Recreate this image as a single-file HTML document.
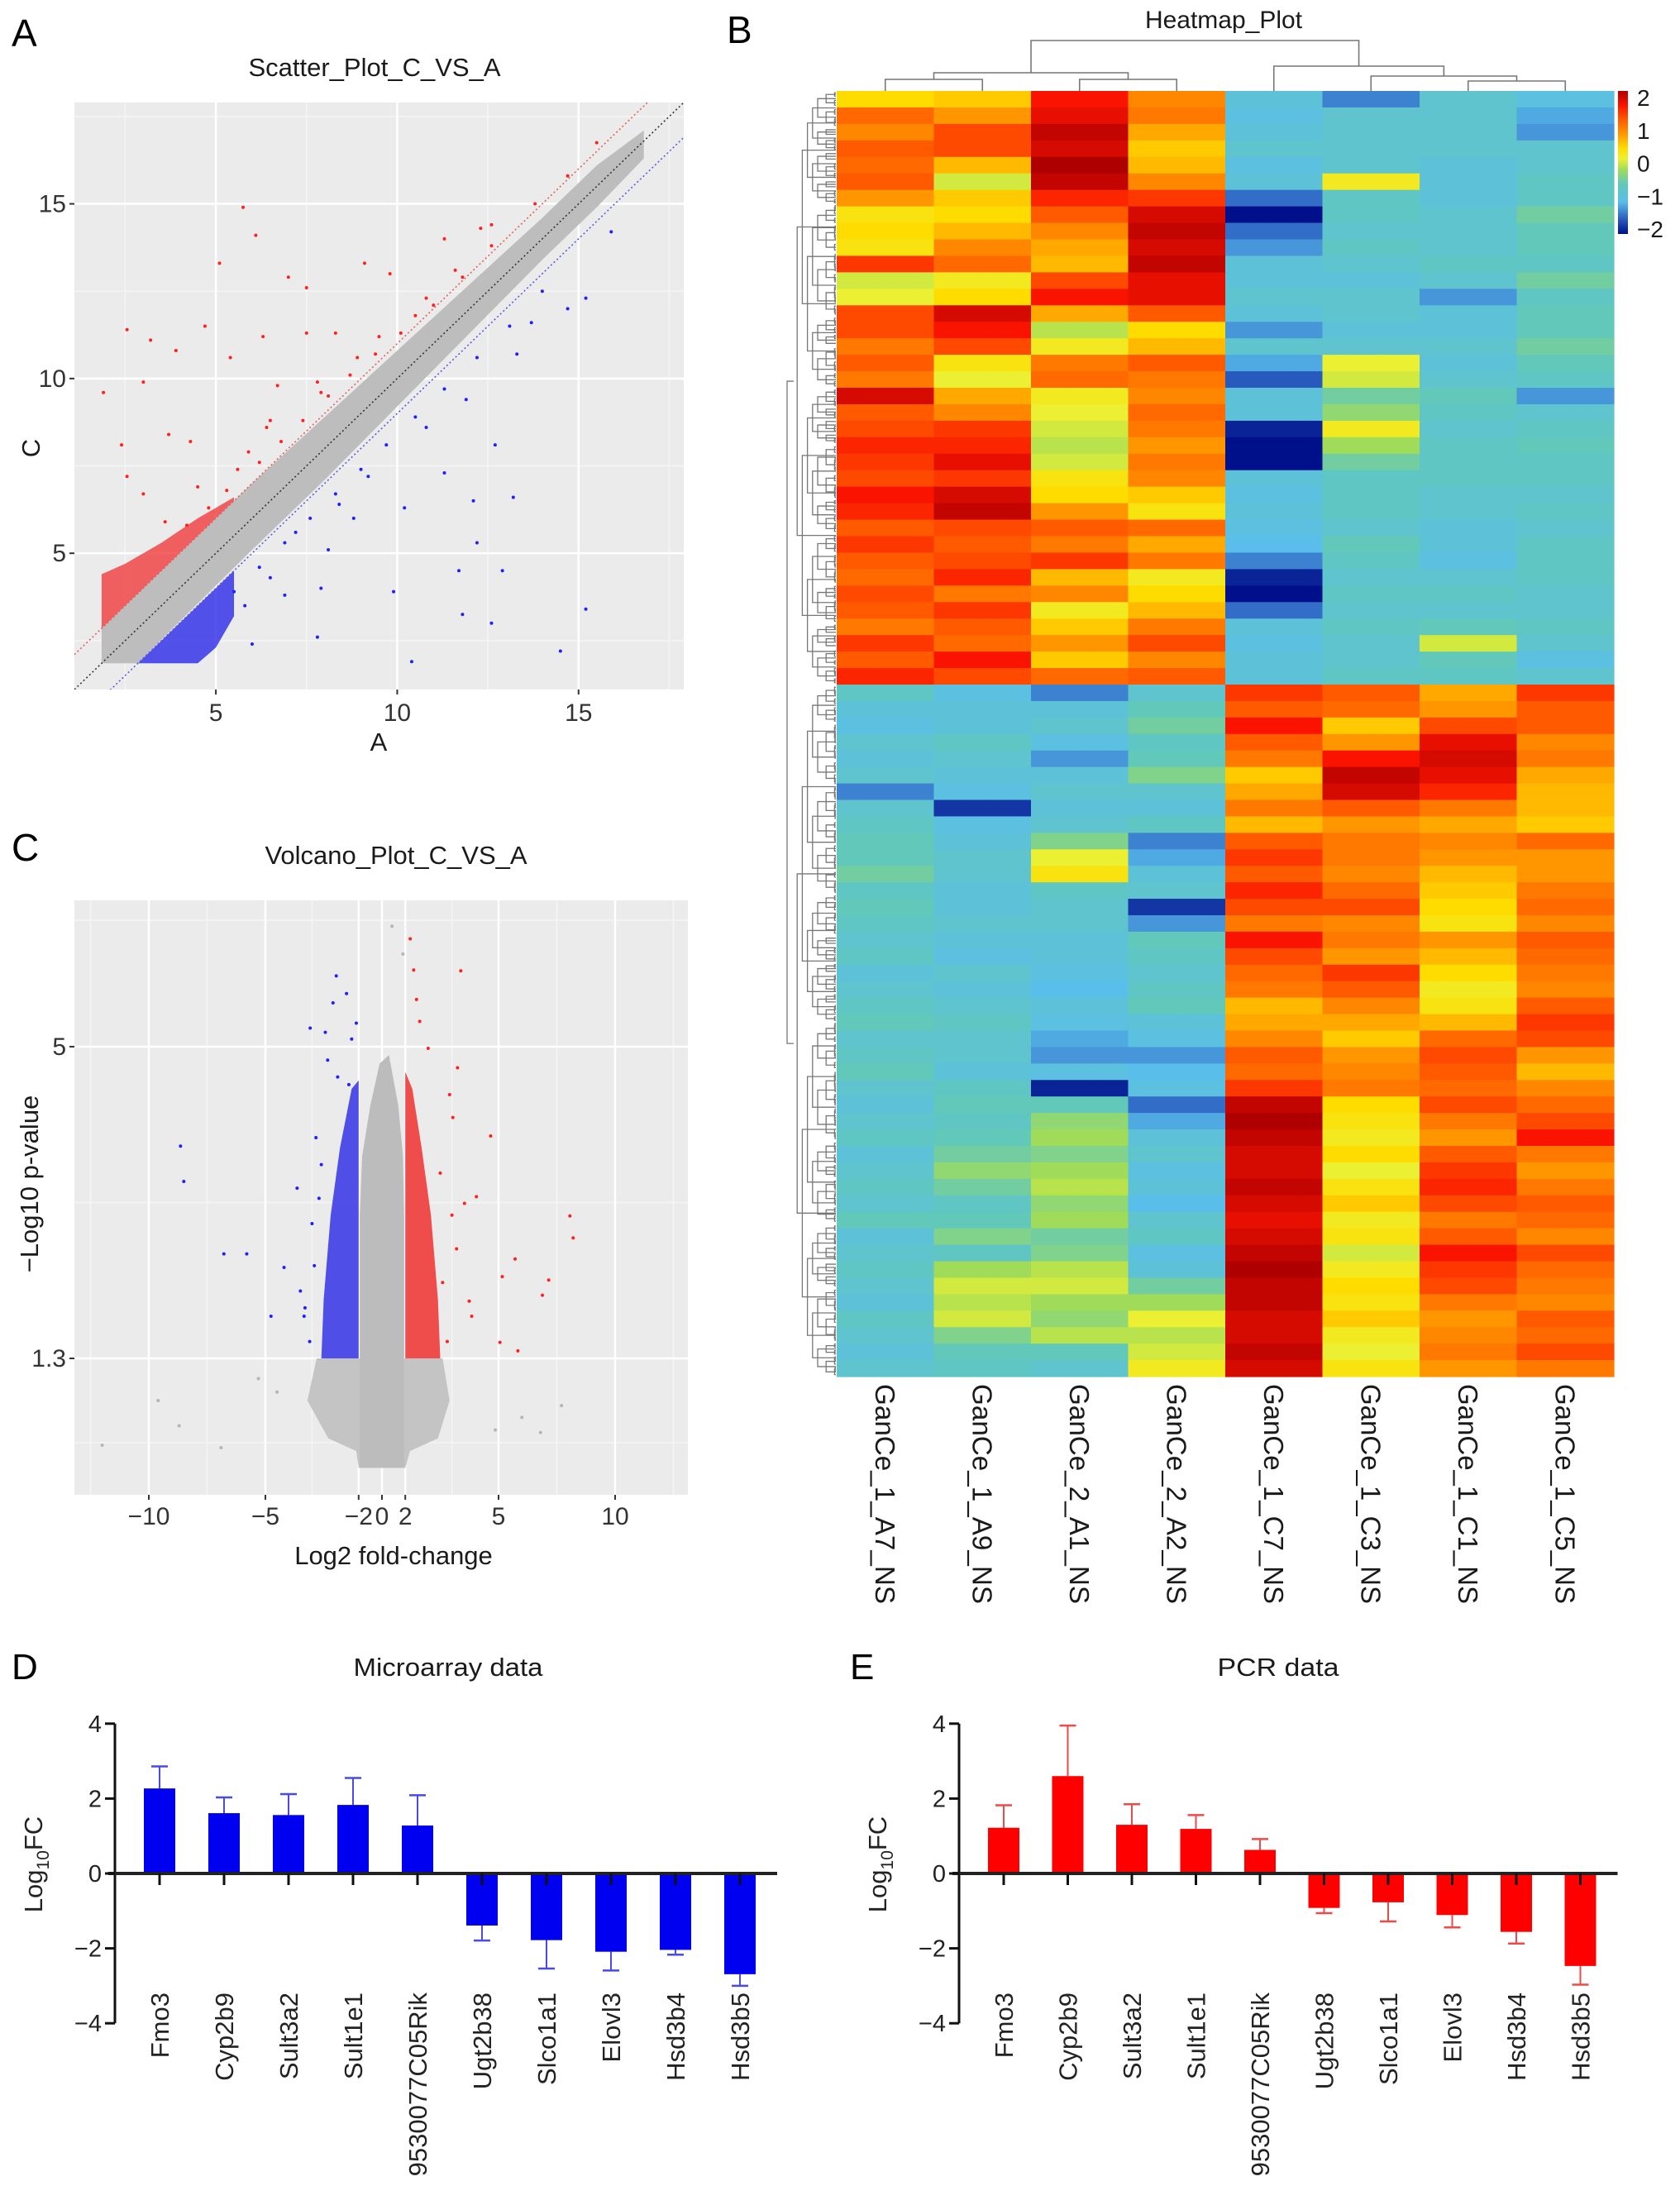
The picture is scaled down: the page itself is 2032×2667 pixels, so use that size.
<!DOCTYPE html>
<html><head><meta charset="utf-8">
<style>
html,body{margin:0;padding:0;background:#fff;}
svg{display:block;font-family:"Liberation Sans",Arial,sans-serif;}
</style></head>
<body>
<svg id="fig" width="2032" height="2667" viewBox="0 0 2032 2667" xmlns="http://www.w3.org/2000/svg">
<g id="scatter"></g>
<g id="volcano"></g>
<g id="heatmap"></g>
<g id="barsD"></g>
<g id="barsE"></g>
</svg>
<script>
// ---------- DATA ----------
// Scatter (A)
const scGrayX  = [1.85, 2.85, 4, 6, 8, 10, 12, 14, 15.5, 16.8];
const scGrayLo = [1.85, 1.85, 3.05, 5.1, 7.1, 9.2, 11.3, 13.4, 14.9, 16.3];
const scGrayHi = [2.85, 3.85, 5.0, 7.0, 8.9, 10.8, 12.7, 14.6, 16.1, 17.1];
const scRedX  = [1.85, 2.5, 3.5, 4.5, 5.5];
const scRedLo = [2.85, 3.5, 4.5, 5.5, 6.5];
const scRedHi = [4.4, 4.7, 5.3, 6.0, 6.6];
const scBlueX  = [2.85, 3.5, 4.5, 5.0, 5.5];
const scBlueLo = [1.85, 1.85, 1.85, 2.3, 3.2];
const scBlueHi = [1.85, 2.5, 3.5, 4.0, 4.5];
const scRedPtsX = [5.75,6.1,5.1,7.5,2.55,4.7,3.2,3.9,1.9,3.0,6.3,5.4,12.6,11.3,12.3,9.1,9.8,10.5,7.0,8.3,15.5,13.8,14.7,7.5,6.7,4.3,3.7,2.4,2.55,3.0,8.9,9.5,10.8,11.6,7.9,6.5,5.9,4.2,4.8,5.3,6.2,6.8,7.4,8.1,8.7,9.4,10.1,11.0,11.8,12.6,4.5,5.6,6.4,7.8,3.6];
const scRedPtsY = [14.9,14.1,13.3,12.6,11.4,11.5,11.1,10.8,9.6,9.9,11.2,10.6,14.4,14.0,14.3,13.3,13.0,11.8,12.9,11.3,16.75,15.0,15.8,11.3,9.8,8.2,8.4,8.1,7.2,6.7,10.6,11.2,12.3,13.1,9.6,8.8,7.9,5.8,6.3,6.8,7.6,8.2,8.8,9.5,10.1,10.7,11.3,12.1,12.9,13.8,6.9,7.4,8.6,9.9,5.9];
const scBluePtsX = [15.9,14.7,15.2,13.7,12.7,13.2,12.2,11.7,11.8,12.6,14.5,15.2,10.4,10.2,9.9,8.8,8.1,7.9,7.8,6.0,6.9,12.9,11.3,13.3,12.1,9.2,10.8,11.9,8.4,7.2,5.5,6.2,6.9,7.6,8.3,9.0,9.7,10.5,11.3,12.2,13.1,14.0,5.8,6.5];
const scBluePtsY = [14.2,12.0,12.3,11.6,8.1,6.6,5.3,4.5,3.25,3.0,2.2,3.4,1.9,6.3,3.9,6.0,5.1,4.0,2.6,2.4,3.8,4.5,7.3,10.7,6.5,7.2,8.6,9.4,6.4,5.6,3.9,4.6,5.3,6.0,6.7,7.4,8.1,8.9,9.7,10.6,11.5,12.5,3.5,4.3];
const scTicks = [5, 10, 15];
// Volcano (C)
const vcTickVals = [-10, -5, -1, 0, 1, 5, 10];
const vcTickLabels = ["\u221210", "\u22125", "\u22122", "0", "2", "5", "10"];
const vcYTickVals = [5, 1.3];
const vcGrayCoreX = [-0.95,-0.95,-0.85,-0.5,-0.1,0.3,0.7,0.9,0.95,0.95];
const vcGrayCoreY = [0.0,3.0,3.7,4.3,4.8,4.9,4.3,3.7,3.0,0.0];
const vcGrayBaseX = [-1.0,1.0,1.2,2.4,2.9,2.6,-2.8,-3.2,-2.3,-1.1];
const vcGrayBaseY = [0.0,0.0,0.2,0.35,0.8,1.3,1.3,0.8,0.35,0.2];
const vcBlueX = [-1.0,-2.6,-2.5,-2.2,-1.8,-1.3,-1.0];
const vcBlueY = [1.3,1.3,2.0,3.0,3.8,4.5,4.6];
const vcRedX = [1.0,2.5,2.4,2.1,1.7,1.3,1.0];
const vcRedY = [1.3,1.3,2.0,3.0,3.8,4.5,4.7];
const vcBluePtsX = [-1.96,-1.52,-2.1,-1.1,-3.08,-2.43,-1.3,-2.33,-1.9,-1.42,-8.64,-8.5,-6.78,-5.8,-3.64,-4.2,-3.34,-2.83,-4.76,-3.0,-2.6,-3.5,-3.1,-2.9,-2.7,-3.3];
const vcBluePtsY = [5.84,5.63,5.52,5.28,5.22,5.17,5.09,4.84,4.64,4.55,3.82,3.4,2.54,2.54,3.32,2.38,1.8,3.92,1.8,2.9,3.6,2.1,1.5,2.4,3.2,1.9];
const vcRedPtsX = [1.21,1.36,1.48,3.38,1.62,1.98,3.24,2.9,3.04,4.66,4.05,3.54,8.06,8.2,5.71,7.15,6.88,5.16,3.85,5.06,5.83,3.74,2.5,3.2,2.8,2.6,3.0];
const vcRedPtsY = [6.28,5.91,5.56,5.9,5.3,4.98,4.75,4.43,4.16,3.94,3.22,3.14,2.99,2.73,2.48,2.23,2.05,2.27,1.8,1.49,1.39,1.98,3.5,2.6,1.5,2.2,3.0];
const vcGrayPtsX = [0.43,-5.3,-9.6,-12,-6.9,7.7,6.8,-8.7,4.86,0.9,-4.5,6.0];
const vcGrayPtsY = [6.43,1.06,0.8,0.27,0.24,0.74,0.42,0.5,0.45,6.1,0.9,0.6];
// Heatmap (B)
const hmSamples = ["GanCe_1_A7_NS","GanCe_1_A9_NS","GanCe_2_A1_NS","GanCe_2_A2_NS","GanCe_1_C7_NS","GanCe_1_C3_NS","GanCe_1_C1_NS","GanCe_1_C5_NS"];
const hmTop = [
[0.4,0.5,1.6,0.9,-0.9,-1.4,-0.8,-1.0],[1.1,0.8,1.7,1.0,-1.0,-0.8,-0.8,-1.2],[0.9,1.3,1.9,0.7,-0.9,-0.8,-0.8,-1.3],
[1.2,1.3,1.8,0.5,-0.8,-0.8,-0.8,-0.8],[1.1,0.6,2.0,0.6,-1.0,-0.8,-0.9,-0.8],[1.2,0.0,1.9,0.9,-0.9,0.2,-0.9,-0.7],
[0.8,0.5,1.5,1.4,-1.5,-0.7,-0.9,-0.7],[0.3,0.4,1.2,1.8,-2.0,-0.7,-0.8,-0.5],[0.4,0.6,0.9,1.9,-1.5,-0.8,-0.8,-0.6],
[0.3,0.9,0.7,1.8,-1.3,-0.7,-0.8,-0.6],[1.4,1.1,0.6,1.9,-0.9,-0.8,-0.7,-0.7],[0.0,0.2,1.3,1.7,-0.9,-0.9,-0.8,-0.5],
[0.1,0.4,1.6,1.7,-0.8,-0.8,-1.3,-0.7],[1.3,1.8,0.7,1.2,-0.9,-0.8,-0.9,-0.6],[1.3,1.6,-0.1,0.4,-1.3,-0.9,-0.9,-0.6],
[1.0,1.3,0.2,0.6,-0.8,-0.8,-0.8,-0.5],[1.2,0.3,1.0,1.2,-1.2,0.1,-0.9,-0.6],[1.0,0.1,1.1,1.0,-1.6,0.0,-0.8,-0.7],
[1.8,0.7,0.2,0.9,-0.9,-0.5,-0.6,-1.3],[1.2,0.9,0.1,1.1,-0.9,-0.3,-0.7,-0.8],[1.3,1.4,0.0,1.0,-1.9,0.2,-0.8,-0.7],
[1.5,1.5,-0.1,0.8,-2.0,-0.2,-0.7,-0.6],[1.4,1.7,0.0,1.0,-2.0,-0.5,-0.7,-0.7],[1.3,1.4,0.3,0.9,-0.9,-0.7,-0.7,-0.7],
[1.6,1.8,0.4,0.5,-1.0,-0.7,-0.8,-0.8],[1.5,1.9,0.8,0.3,-0.9,-0.7,-0.8,-0.7],[1.2,1.3,1.2,1.1,-1.0,-0.8,-0.9,-0.8],
[1.4,1.2,1.0,0.7,-1.1,-0.6,-0.9,-0.7],[1.2,1.3,1.4,1.0,-1.4,-0.7,-1.0,-0.7],[1.1,1.5,0.6,0.2,-1.9,-0.8,-0.8,-0.7],
[1.3,1.0,0.9,0.4,-2.0,-0.7,-0.7,-0.8],[1.2,1.4,0.2,0.6,-1.5,-0.8,-0.8,-0.8],[1.0,1.2,0.5,1.0,-0.9,-0.7,-0.6,-0.7],
[1.4,1.1,0.8,1.3,-1.0,-0.8,0.0,-0.8],[1.2,1.6,0.5,0.9,-0.9,-0.8,-0.6,-1.0],[1.5,1.3,1.1,1.2,-0.9,-0.7,-0.7,-0.8]];
const hmBottom = [
[-0.7,-1.0,-1.4,-0.8,1.4,1.2,0.7,1.4],[-0.9,-0.9,-0.9,-0.6,1.2,1.1,0.8,1.2],[-1.0,-0.9,-0.8,-0.5,1.6,0.5,1.3,1.2],
[-0.8,-0.7,-1.0,-0.7,1.2,0.8,1.7,0.9],[-0.9,-0.8,-1.3,-0.6,1.0,1.6,1.8,1.0],[-0.8,-0.9,-0.9,-0.4,0.5,1.9,1.7,0.7],
[-1.4,-1.0,-0.8,-0.8,0.7,1.8,1.5,0.6],[-0.8,-1.8,-0.9,-0.9,1.0,1.2,1.0,0.6],[-0.7,-1.0,-0.8,-0.7,0.6,0.8,0.7,0.5],
[-0.6,-0.9,-0.4,-1.4,1.2,1.0,0.9,1.1],[-0.6,-0.8,0.1,-1.2,1.4,1.0,0.8,0.8],[-0.5,-0.8,0.3,-0.9,1.2,0.9,0.6,0.8],
[-0.7,-0.9,-0.7,-0.8,1.5,1.1,0.5,1.0],[-0.6,-0.9,-0.8,-1.8,1.3,1.3,0.4,1.1],[-0.7,-0.8,-0.8,-1.3,1.0,0.9,0.3,0.9],
[-0.8,-0.9,-0.9,-0.6,1.6,1.0,0.8,1.2],[-0.7,-1.0,-0.9,-0.7,1.3,0.8,0.6,1.1],[-0.9,-0.8,-1.0,-0.8,1.1,1.4,0.4,1.0],
[-0.8,-0.9,-1.1,-0.7,1.0,1.2,0.2,0.9],[-0.7,-0.8,-0.9,-0.6,0.6,0.9,0.3,1.2],[-0.6,-0.7,-1.0,-0.9,0.7,0.7,0.6,1.4],
[-0.8,-0.8,-1.2,-1.0,0.9,0.5,1.1,1.3],[-0.7,-0.8,-1.3,-1.3,1.2,0.8,1.3,0.8],[-0.6,-0.9,-1.0,-1.1,1.1,0.9,1.2,0.6],
[-0.8,-0.7,-1.9,-1.0,1.4,1.0,1.1,0.9],[-0.9,-0.6,-0.6,-1.5,1.9,0.4,1.3,1.1],[-0.8,-0.7,-0.3,-1.2,2.0,0.3,1.0,1.3],
[-0.7,-0.6,-0.2,-0.9,1.9,0.2,0.8,1.6],[-0.9,-0.5,-0.4,-0.8,1.8,0.4,1.2,1.0],[-0.8,-0.3,-0.2,-1.0,1.8,0.1,1.4,0.8],
[-0.7,-0.5,-0.1,-0.9,1.9,0.3,1.5,1.0],[-0.8,-0.7,-0.3,-1.1,1.8,0.5,1.3,1.2],[-0.6,-0.6,-0.2,-0.8,1.7,0.2,1.0,1.1],
[-0.9,-0.4,-0.5,-0.7,1.8,0.3,1.2,0.9],[-0.8,-0.7,-0.4,-1.0,1.9,0.0,1.6,1.3],[-0.7,-0.2,-0.1,-0.9,2.0,0.2,1.4,1.1],
[-0.8,0.0,0.0,-0.5,1.9,0.4,1.3,1.0],[-0.9,-0.1,-0.2,-0.2,1.9,0.3,1.0,0.9],[-0.7,0.0,-0.3,0.1,1.8,0.5,0.8,1.2],
[-0.8,-0.4,-0.1,-0.1,1.8,0.2,0.9,1.1],[-0.9,-0.6,-0.6,0.0,1.9,0.1,1.0,1.3],[-0.8,-0.7,-0.8,0.2,1.8,0.3,0.8,1.0]];
const hmLegendVals = [2, 1, 0, -1, -2];
const hmLegendLabels = ["2", "1", "0", "\u22121", "\u22122"];
// Bars (D, E)
const genes = ["Fmo3","Cyp2b9","Sult3a2","Sult1e1","9530077C05Rik","Ugt2b38","Slco1a1","Elovl3","Hsd3b4","Hsd3b5"];
const microVals = [2.27,1.61,1.56,1.83,1.28,-1.39,-1.78,-2.09,-2.04,-2.69];
const microErr  = [0.59,0.42,0.56,0.72,0.81,0.40,0.76,0.50,0.13,0.31];
const pcrVals = [1.22,2.6,1.3,1.19,0.63,-0.92,-0.77,-1.11,-1.56,-2.47];
const pcrErr  = [0.60,1.35,0.55,0.37,0.29,0.14,0.51,0.33,0.31,0.50];
const barTicks = [4, 2, 0, -2, -4];
const barTickLabels = ["4", "2", "0", "\u22122", "\u22124"];

// ---------- HELPERS ----------
const NS = "http://www.w3.org/2000/svg";
function mk(parent, tag, attrs, txt) {
  const e = document.createElementNS(NS, tag);
  for (const k in attrs) e.setAttribute(k, attrs[k]);
  if (txt !== undefined) e.textContent = txt;
  parent.appendChild(e);
  return e;
}
const TXT = "#1a1a1a";

// ---------- PANEL A: SCATTER ----------
(function(){
  const g = document.getElementById("scatter");
  const X0 = 90, X1 = 827, Y0 = 124, Y1 = 834, dmin = 1.1, dmax = 17.9;
  const sx = v => X0 + (v - dmin) * (X1 - X0) / (dmax - dmin);
  const sy = v => Y1 - (v - dmin) * (Y1 - Y0) / (dmax - dmin);
  let t = mk(g, "text", {x: 14, y: 56, "font-size": 46, fill: "#000"}, "A");
  
  
  t = mk(g, "text", {x: 453, y: 92, "font-size": 31, fill: TXT, "text-anchor": "middle"}, "Scatter_Plot_C_VS_A");
  
  
  const bg = mk(g, "rect", {x: X0, y: Y0, width: X1 - X0, height: Y1 - Y0, fill: "#ebebeb"});
  
  
  const cp = mk(g, "clipPath", {id: "scClip"}); mk(cp, "rect", {x: X0, y: Y0, width: X1 - X0, height: Y1 - Y0});
  const inner = mk(g, "g", {"clip-path": "url(#scClip)"});
  [2.5, 7.5, 12.5, 17.5].forEach(v => {
    mk(inner, "line", {x1: sx(v), x2: sx(v), y1: Y0, y2: Y1, stroke: "#f5f5f5", "stroke-width": 1.5});
    mk(inner, "line", {y1: sy(v), y2: sy(v), x1: X0, x2: X1, stroke: "#f5f5f5", "stroke-width": 1.5});
  });
  scTicks.forEach(v => {
    const l1 = mk(inner, "line", {x1: sx(v), x2: sx(v), y1: Y0, y2: Y1, stroke: "#fff", "stroke-width": 2.5});
    
    
    const l2 = mk(inner, "line", {y1: sy(v), y2: sy(v), x1: X0, x2: X1, stroke: "#fff", "stroke-width": 2.5});
    
    
  });
  function band(xs, lo, hi, fill, op, name) {
    let pts = xs.map((x, i) => sx(x) + "," + sy(lo[i]));
    for (let i = xs.length - 1; i >= 0; i--) pts.push(sx(xs[i]) + "," + sy(hi[i]));
    const p = mk(inner, "polygon", {points: pts.join(" "), fill: fill, "fill-opacity": op});
    
    
  }
  band(scRedX, scRedLo, scRedHi, "#f03c3c", 0.8, "upregulated-dense-cloud");
  band(scBlueX, scBlueLo, scBlueHi, "#2a2ae8", 0.8, "downregulated-dense-cloud");
  band(scGrayX, scGrayLo, scGrayHi, "#bdbdbd", 1, "unchanged-point-cloud");
  scRedPtsX.forEach((x, i) => {
    const c = mk(inner, "circle", {cx: sx(x), cy: sy(scRedPtsY[i]), r: 2, fill: "#ff2020"});
    
    
  });
  scBluePtsX.forEach((x, i) => {
    const c = mk(inner, "circle", {cx: sx(x), cy: sy(scBluePtsY[i]), r: 2, fill: "#2020ff"});
    
    
  });
  const lines = [[0, "#333", "diagonal-line"], [1, "#e06060", "upper-threshold-line"], [-1, "#5a5ae0", "lower-threshold-line"]];
  lines.forEach(([o, col, nm]) => {
    const l = mk(inner, "line", {x1: sx(dmin), y1: sy(dmin + o), x2: sx(dmax), y2: sy(dmax + o), stroke: col, "stroke-width": 1.6, "stroke-dasharray": "2,3"});
    
    
  });
  scTicks.forEach(v => {
    mk(g, "line", {x1: sx(v), x2: sx(v), y1: Y1, y2: Y1 + 6, stroke: "#333", "stroke-width": 2});
    let tx = mk(g, "text", {x: sx(v), y: Y1 + 38, "font-size": 30, fill: "#333", "text-anchor": "middle"}, String(v));
    
    
    mk(g, "line", {x1: X0 - 6, x2: X0, y1: sy(v), y2: sy(v), stroke: "#333", "stroke-width": 2});
    tx = mk(g, "text", {x: X0 - 10, y: sy(v) + 10, "font-size": 30, fill: "#333", "text-anchor": "end"}, String(v));
    
    
  });
  t = mk(g, "text", {x: 458, y: 908, "font-size": 31, fill: TXT, "text-anchor": "middle"}, "A");
  
  
  t = mk(g, "text", {x: 48, y: 542, "font-size": 31, fill: TXT, "text-anchor": "middle", transform: "rotate(-90 48 542)"}, "C");
  
  
})();

// ---------- PANEL C: VOLCANO ----------
(function(){
  const g = document.getElementById("volcano");
  const X0 = 90, X1 = 832, Y0 = 1089, Y1 = 1808;
  const vx = v => 462 + v * 28.2;
  const vy = v => 1643 - (v - 1.3) * 101.9;
  let t = mk(g, "text", {x: 14, y: 1041, "font-size": 46, fill: "#000"}, "C");
  
  
  t = mk(g, "text", {x: 479, y: 1045, "font-size": 31, fill: TXT, "text-anchor": "middle"}, "Volcano_Plot_C_VS_A");
  
  
  const bg = mk(g, "rect", {x: X0, y: Y0, width: X1 - X0, height: Y1 - Y0, fill: "#ebebeb"});
  
  
  const cp = mk(g, "clipPath", {id: "vcClip"}); mk(cp, "rect", {x: X0, y: Y0, width: X1 - X0, height: Y1 - Y0});
  const inner = mk(g, "g", {"clip-path": "url(#vcClip)"});
  [-12.5, -7.5, -3, 3, 7.5, 12.5].forEach(v => mk(inner, "line", {x1: vx(v), x2: vx(v), y1: Y0, y2: Y1, stroke: "#f5f5f5", "stroke-width": 1.5}));
  [0.3, 3.15, 6.5].forEach(v => mk(inner, "line", {y1: vy(v), y2: vy(v), x1: X0, x2: X1, stroke: "#f5f5f5", "stroke-width": 1.5}));
  vcTickVals.forEach(v => {
    const l = mk(inner, "line", {x1: vx(v), x2: vx(v), y1: Y0, y2: Y1, stroke: "#fff", "stroke-width": 2.5});
    
    
  });
  vcYTickVals.forEach(v => {
    const l = mk(inner, "line", {y1: vy(v), y2: vy(v), x1: X0, x2: X1, stroke: "#fff", "stroke-width": 2.5});
    
    
  });
  function poly(xs, ys, fill, op, name) {
    const p = mk(inner, "polygon", {points: xs.map((x, i) => vx(x) + "," + vy(ys[i])).join(" "), fill: fill, "fill-opacity": op});
    
    
  }
  poly(vcGrayBaseX, vcGrayBaseY, "#c4c4c4", 1, "nonsignificant-base-cloud");
  poly(vcBlueX, vcBlueY, "#3434e6", 0.85, "downregulated-cloud");
  poly(vcRedX, vcRedY, "#f03030", 0.85, "upregulated-cloud");
  poly(vcGrayCoreX, vcGrayCoreY, "#bcbcbc", 1, "low-fold-change-cloud");
  function pts(xs, ys, col, name) {
    xs.forEach((x, i) => {
      const c = mk(inner, "circle", {cx: vx(x), cy: vy(ys[i]), r: 2, fill: col});
      
      
    });
  }
  pts(vcGrayPtsX, vcGrayPtsY, "#b5b5b5", "gray-point");
  pts(vcBluePtsX, vcBluePtsY, "#2020ff", "down-point");
  pts(vcRedPtsX, vcRedPtsY, "#ff2020", "up-point");
  vcTickVals.forEach((v, i) => {
    mk(g, "line", {x1: vx(v), x2: vx(v), y1: Y1, y2: Y1 + 6, stroke: "#333", "stroke-width": 2});
    const tx = mk(g, "text", {x: vx(v), y: Y1 + 36, "font-size": 30, fill: "#333", "text-anchor": "middle"}, vcTickLabels[i]);
    
    
  });
  vcYTickVals.forEach(v => {
    mk(g, "line", {x1: X0 - 6, x2: X0, y1: vy(v), y2: vy(v), stroke: "#333", "stroke-width": 2});
    const tx = mk(g, "text", {x: X0 - 10, y: vy(v) + 10, "font-size": 30, fill: "#333", "text-anchor": "end"}, String(v));
    
    
  });
  t = mk(g, "text", {x: 476, y: 1892, "font-size": 31, fill: TXT, "text-anchor": "middle"}, "Log2 fold-change");
  
  
  t = mk(g, "text", {x: 46, y: 1432, "font-size": 31, fill: TXT, "text-anchor": "middle", transform: "rotate(-90 46 1432)"}, "\u2212Log10 p-value");
  
  
})();

// ---------- PANEL B: HEATMAP ----------
(function(){
  const g = document.getElementById("heatmap");
  const L = 1012, R = 1952, T = 110, S = 828, B = 1665;
  const cw = (R - L) / hmSamples.length;
  const stops = [[-2,[0,16,138]],[-1.6,[40,90,190]],[-1.1,[90,190,235]],[-0.6,[98,200,185]],[-0.2,[160,220,90]],[0.1,[235,240,50]],[0.4,[255,220,0]],[0.8,[255,150,0]],[1.2,[255,90,0]],[1.6,[250,20,0]],[2,[175,0,0]]];
  function color(v) {
    v = Math.max(-2, Math.min(2, v));
    for (let i = 0; i < stops.length - 1; i++) {
      const [a, ca] = stops[i], [b, cb] = stops[i + 1];
      if (v <= b) { const f = (v - a) / (b - a); return "rgb(" + ca.map((c, k) => Math.round(c + (cb[k] - c) * f)).join(",") + ")"; }
    }
    return "rgb(175,0,0)";
  }
  let t = mk(g, "text", {x: 879, y: 52, "font-size": 46, fill: "#000"}, "B");
  
  
  t = mk(g, "text", {x: 1480, y: 34, "font-size": 30, fill: TXT, "text-anchor": "middle"}, "Heatmap_Plot");
  
  
  function block(rows, y0, y1, nm) {
    const rh = (y1 - y0) / rows.length;
    rows.forEach((row, r) => row.forEach((v, c) => {
      const cell = mk(g, "rect", {x: L + c * cw, y: y0 + r * rh, width: cw + 0.6, height: rh + 0.6, fill: color(v)});
      
      
    }));
  }
  block(hmTop, T, S, "heatmap-cell-upper-cluster");
  block(hmBottom, S, B, "heatmap-cell-lower-cluster");
  const cx = i => L + cw * (i + 0.5);
  const dg = mk(g, "g", {stroke: "#777", "stroke-width": 1.6, fill: "none"});
  
  
  function br(xa, ya, xb, yb, h) { mk(dg, "path", {d: `M${xa},${ya}V${h}H${xb}V${yb}`}); }
  br(cx(0), T, cx(1), T, 96);
  br(cx(2), T, cx(3), T, 96);
  br((cx(0)+cx(1))/2, 96, (cx(2)+cx(3))/2, 96, 88);
  br(cx(6), T, cx(7), T, 98);
  br(cx(5), T, (cx(6)+cx(7))/2, 98, 92);
  br(cx(4), T, (cx(5)+(cx(6)+cx(7))/2)/2, 92, 80);
  const lm = ((cx(0)+cx(1))/2 + (cx(2)+cx(3))/2)/2;
  const rm = (cx(4) + (cx(5)+(cx(6)+cx(7))/2)/2)/2;
  br(lm, 88, rm, 80, 49);
  const rg = mk(g, "g", {stroke: "#777", "stroke-width": 1.3, fill: "none"});
  
  
  function tree(y0, y1, depth, xr) {
    const mid = (y0 + y1) / 2;
    if (y1 - y0 < 7 || depth > 9) return mid;
    const f = 0.5 + 0.12 * Math.sin(depth * 1.7 + y0 * 0.013);
    const ym = y0 + (y1 - y0) * f;
    const a = tree(y0, ym, depth + 1, xr);
    const b = tree(ym, y1, depth + 1, xr);
    const x = Math.min(1010, xr + depth * 6.2 + (depth > 5 ? (depth - 5) * 4 : 0));
    mk(rg, "path", {d: `M1011,${a}H${x}V${b}H1011`});
    return (a + b) / 2;
  }
  const a = tree(T, S, 1, 958);
  const b = tree(S, B, 1, 958);
  mk(rg, "path", {d: `M960,${a}H952V${b}H960`});
  hmSamples.forEach((s, i) => {
    const x = cx(i) - 12;
    const lt = mk(g, "text", {x: x, y: 1674, "font-size": 33, fill: TXT, transform: `rotate(90 ${x} 1674)`, textLength: 266, lengthAdjust: "spacingAndGlyphs"}, s);
    
    
  });
  const defs = mk(g, "defs", {});
  const lg = mk(defs, "linearGradient", {id: "hmGrad", x1: 0, y1: 1, x2: 0, y2: 0});
  stops.forEach(([v, c]) => mk(lg, "stop", {offset: ((v + 2) / 4 * 100) + "%", "stop-color": "rgb(" + c.join(",") + ")"}));
  const lgY0 = 110, lgY1 = 283;
  const cb = mk(g, "rect", {x: 1957, y: lgY0, width: 12, height: lgY1 - lgY0, fill: "url(#hmGrad)"});
  
  
  const ly = v => lgY1 - 6 - (v + 2) / 4 * (lgY1 - lgY0 - 14);
  hmLegendVals.forEach((v, i) => {
    const lt = mk(g, "text", {x: 1980, y: ly(v) + 10, "font-size": 28, fill: TXT}, hmLegendLabels[i]);
    
    
  });
})();

// ---------- PANELS D & E: BAR CHARTS ----------
function barChart(id, letter, letterX, title, titleX, titleW, axisX, firstX, step, vals, errs, color, errColor) {
  const g = document.getElementById(id);
  const y0 = 2266, k = 45.3;
  const by = v => y0 - v * k;
  const bx = i => firstX + i * step;
  let t = mk(g, "text", {x: letterX, y: 2031, "font-size": 44, fill: "#000"}, letter);
  
  
  t = mk(g, "text", {x: titleX, y: 2027, "font-size": 31, fill: TXT, "text-anchor": "middle", textLength: titleW, lengthAdjust: "spacingAndGlyphs"}, title);
  
  
  vals.forEach((v, i) => {
    const top = v >= 0 ? by(v) : y0;
    const h = Math.abs(by(v) - y0);
    const e = v >= 0 ? by(v + errs[i]) : by(v - errs[i]);
    const el = mk(g, "line", {x1: bx(i), x2: bx(i), y1: by(v), y2: e, stroke: errColor, "stroke-width": 2});
    
    
    mk(g, "line", {x1: bx(i) - 10, x2: bx(i) + 10, y1: e, y2: e, stroke: errColor, "stroke-width": 2.5});
    const r = mk(g, "rect", {x: bx(i) - 19, y: top, width: 38, height: h, fill: color});
    
    
  });
  const ya = mk(g, "line", {x1: axisX, x2: axisX, y1: by(4), y2: by(-4), stroke: "#111", "stroke-width": 3});
  
  
  const za = mk(g, "line", {x1: axisX - 8, x2: bx(9) + 45, y1: y0, y2: y0, stroke: "#222", "stroke-width": 4});
  
  
  barTicks.forEach((v, i) => {
    mk(g, "line", {x1: axisX - 12, x2: axisX, y1: by(v), y2: by(v), stroke: "#111", "stroke-width": 3});
    const tx = mk(g, "text", {x: axisX - 16, y: by(v) + 10, "font-size": 29, fill: "#222", "text-anchor": "end"}, barTickLabels[i]);
    
    
  });
  genes.forEach((gn, i) => {
    mk(g, "line", {x1: bx(i), x2: bx(i), y1: y0, y2: y0 + 14, stroke: "#111", "stroke-width": 3});
    const tx = mk(g, "text", {x: bx(i) + 11, y: 2410, "font-size": 31, fill: "#222", "text-anchor": "end", transform: `rotate(-90 ${bx(i) + 11} 2410)`}, gn);
    
    
  });
  const yl = axisX - 88;
  const ylab = mk(g, "text", {x: yl, y: 2255, "font-size": 31, fill: "#222", "text-anchor": "middle", transform: `rotate(-90 ${yl} 2255)`});
  
  
  mk(ylab, "tspan", {}, "Log");
  mk(ylab, "tspan", {"font-size": 21, dy: 8}, "10");
  mk(ylab, "tspan", {dy: -8}, "FC");
}
barChart("barsD", "D", 14, "Microarray data", 542, 229, 139, 193, 78, microVals, microErr, "#0000f0", "#4a4ae8");
barChart("barsE", "E", 1028, "PCR data", 1546, 147, 1160, 1214, 77.5, pcrVals, pcrErr, "#ff0000", "#ee4a4a");
</script>
</body></html>
